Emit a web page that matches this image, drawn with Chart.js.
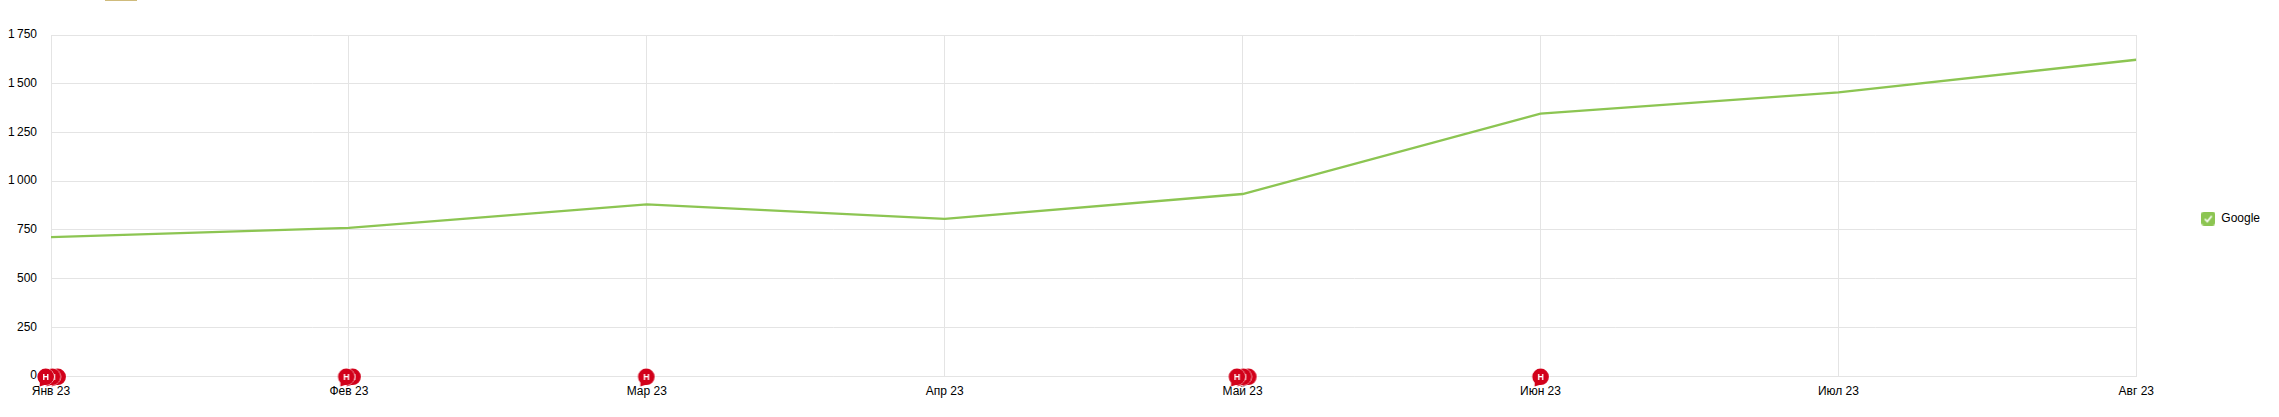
<!DOCTYPE html>
<html>
<head>
<meta charset="utf-8">
<style>
    html, body { margin: 0; padding: 0; background: #fff; overflow: hidden; }
    #cut-tab { position: absolute; left: 105px; top: 0; width: 32px; height: 1px; background: #cfbb7c; }
    canvas { display: block; }
</style>
<script src="https://cdn.jsdelivr.net/npm/chart.js@4"></script>
</head>
<body>
<div id="cut-tab"></div>
<canvas id="chart" width="2279" height="417"></canvas>
<script>
// x position on the axis is the month index, 0 = Янв 23
const monthLabels = ['Янв 23', 'Фев 23', 'Мар 23', 'Апр 23', 'Май 23', 'Июн 23', 'Июл 23', 'Авг 23'];
const googleValues = [713, 760, 881, 806, 934, 1346, 1456, 1623];
const valueTicks = ['0', '250', '500', '750', '1\u2009000', '1\u2009250', '1\u2009500', '1\u2009750'];
// news flags, right to left in each month so that the earliest one lands on top
const noteDates = [0.04, 0.022, 0, 1.03, 1.009, 2.016, 4.037, 4.02, 3.999, 5.018];
const noteValues = [0, 0, 0, 0, 0, 0, 0, 0, 0, 0];

const GREEN = '#8cc552';
const RED = '#d2001a';
const FONT = '"Liberation Sans", Arial, sans-serif';

function makeNoteIcon() {
    const c = document.createElement('canvas');
    c.width = 36;
    c.height = 36;
    const g = c.getContext('2d');
    const cx = 18 - 5.3;
    const cy = 18 + 0.8;
    g.beginPath();
    g.arc(cx, cy, 8.3, Math.PI * 0.75, Math.PI * 0.55);
    g.lineTo(cx - 6, cy + 9.8);
    g.closePath();
    g.fillStyle = RED;
    g.strokeStyle = '#fff';
    g.lineWidth = 1;
    g.stroke();
    g.fill();
    g.fillStyle = '#fff';
    g.font = 'bold 9px ' + FONT;
    g.textAlign = 'center';
    g.textBaseline = 'middle';
    g.fillText('Н', cx, cy + 0.5);
    return c;
}

function makeCheckIcon() {
    const c = document.createElement('canvas');
    c.width = 14;
    c.height = 14;
    const g = c.getContext('2d');
    g.beginPath();
    g.roundRect(0, 0, 14, 14, 3);
    g.fillStyle = GREEN;
    g.fill();
    g.beginPath();
    g.moveTo(3.5, 7.5);
    g.lineTo(6, 10);
    g.lineTo(10.5, 4.5);
    g.strokeStyle = '#fff';
    g.lineWidth = 1.6;
    g.stroke();
    return c;
}

const whiteBackground = {
    id: 'whiteBackground',
    beforeDraw(chart) {
        const g = chart.ctx;
        g.save();
        g.fillStyle = '#fff';
        g.fillRect(0, 0, chart.width, chart.height);
        g.restore();
    }
};

const canvas = document.getElementById('chart');
const ctx = canvas.getContext('2d', { alpha: false });

new Chart(ctx, {
    type: 'line',
    plugins: [whiteBackground],
    data: {
        datasets: [
            {
                label: 'Новости',
                data: noteDates.map((d, i) => ({ x: d, y: noteValues[i] })),
                showLine: false,
                pointStyle: makeNoteIcon(),
                pointRadius: 8,
                clip: false,
                order: 0
            },
            {
                label: 'Google',
                data: googleValues.map((v, i) => ({ x: i, y: v })),
                borderColor: GREEN,
                backgroundColor: GREEN,
                borderWidth: 2.3,
                pointRadius: 0,
                tension: 0,
                order: 1
            }
        ]
    },
    options: {
        responsive: false,
        animation: false,
        events: [],
        layout: { padding: { top: 35, bottom: 15, right: 9 } },
        scales: {
            x: {
                type: 'linear',
                min: 0,
                max: 7,
                grid: { color: '#e4e4e4', drawTicks: false },
                border: { color: '#e4e4e4' },
                afterFit(scale) { scale.height = 26; },
                ticks: {
                    stepSize: 1,
                    padding: 8,
                    maxRotation: 0,
                    color: '#000',
                    font: { family: FONT, size: 12 },
                    callback: (v) => monthLabels[v]
                }
            },
            y: {
                min: 0,
                max: 1750,
                grid: { color: '#e4e4e4', drawTicks: false },
                border: { color: '#e4e4e4' },
                afterFit(scale) { scale.width = 51; },
                ticks: {
                    stepSize: 250,
                    padding: 14,
                    color: '#000',
                    font: { family: FONT, size: 12 },
                    callback: (v) => valueTicks[v / 250]
                }
            }
        },
        plugins: {
            tooltip: { enabled: false },
            legend: {
                position: 'right',
                labels: {
                    usePointStyle: true,
                    pointStyle: makeCheckIcon(),
                    pointStyleWidth: 14,
                    padding: 65,
                    color: '#000',
                    font: { family: FONT, size: 12 },
                    filter: (item) => item.text === 'Google'
                }
            }
        }
    }
});
</script>
</body>
</html>
